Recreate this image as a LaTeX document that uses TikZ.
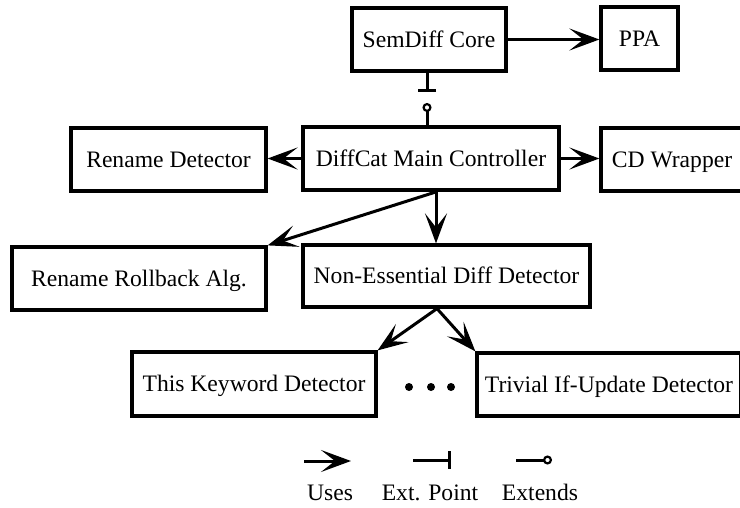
\documentclass[tikz,border=0pt]{standalone}
\usepackage{fontspec}
\newfontfamily\tnr{Liberation Serif}
\usetikzlibrary{arrows.meta}
\begin{document}
\begin{tikzpicture}[x=0.5pt,y=-0.5pt,
  box/.style={draw, line width=1.6pt, inner sep=0pt, minimum height=31.5pt,
    text height=7.8pt, text depth=0pt, font=\tnr\fontsize{11.8}{14}\selectfont},
  lbl/.style={inner sep=0pt, text height=7.8pt, text depth=0pt, font=\tnr\fontsize{11.8}{14}\selectfont},
  uses/.style={line width=1.5pt, -{Stealth[length=15pt,width=11pt,inset=7pt]}},
  extpt/.style={line width=1.5pt, -{Bar[width=9pt,line width=1.5pt]}},
  extends/.style={line width=1.5pt, -{Circle[open,length=4.5pt,width=4.5pt,line width=1.1pt]}},
  dotmark/.style={circle, fill, inner sep=0pt, minimum size=4pt}]
\useasboundingbox (0,0) rectangle (740,508);

% boxes
\node[box, minimum width=77pt] (semdiff) at (429,39.5) {SemDiff Core};
\node[box, minimum width=38.5pt] (ppa) at (639.5,38.5) {PPA};
\node[box, minimum width=97.5pt] (rename) at (168.5,159.5) {Rename Detector};
\node[box, minimum width=128pt] (main) at (431,158.5) {DiffCat Main Controller};
\node[box, minimum width=71pt] (cdw) at (672,159.5) {CD Wrapper};
\node[box, minimum width=127pt] (rollback) at (139,278.5) {Rename Rollback Alg.};
\node[box, minimum width=143.5pt, minimum height=31pt] (noness) at (446.5,276) {Non-Essential Diff Detector};
\node[box, minimum width=122pt, minimum height=32pt] (thiskw) at (254,384) {This Keyword Detector};
\node[box, minimum width=132pt, minimum height=31.5pt] (trivial) at (609,384.5) {Trivial If-Update Detector};

% dots
\node[dotmark] (d1) at (409,387) {};
\node[dotmark] (d2) at (431,387) {};
\node[dotmark] (d3) at (451,387) {};

% uses connectors
\draw[uses] (semdiff.east) -- (semdiff.east -| ppa.west);
\draw[uses] (main.west) -- (main.west -| rename.east);
\draw[uses] (main.east) -- (main.east -| cdw.west);
\draw[uses] ([xshift=3pt]main.south) -- (rollback.north east);
\draw[uses] ([xshift=2.5pt]main.south) -- ([xshift=2.5pt]main.south |- noness.north);
\draw[uses] ([xshift=-4.75pt]noness.south) -- (thiskw.north east);
\draw[uses] ([xshift=-4.75pt]noness.south) -- (trivial.north west);

% extension point and extends
\coordinate (ep) at (427,92);
\draw[extpt] (semdiff.south -| ep) -- (ep);
\coordinate (exc) at (427,103);
\draw[extends] (main.north -| exc) -- (exc);

% legend
\coordinate (u1) at (304,461); \coordinate (u2) at (351,461);
\draw[uses] (u1) -- (u2);
\coordinate (e1) at (413,460); \coordinate (e2) at (451,460);
\draw[extpt] (e1) -- (e2);
\coordinate (x1) at (516,460); \coordinate (x2) at (552,460);
\draw[extends] (x1) -- (x2);
\node[lbl] (luses) at (330,493) {Uses};
\node[lbl] (lext) at (430,493) {Ext. Point};
\node[lbl] (lextends) at (540,493) {Extends};
\end{tikzpicture}
\end{document}
